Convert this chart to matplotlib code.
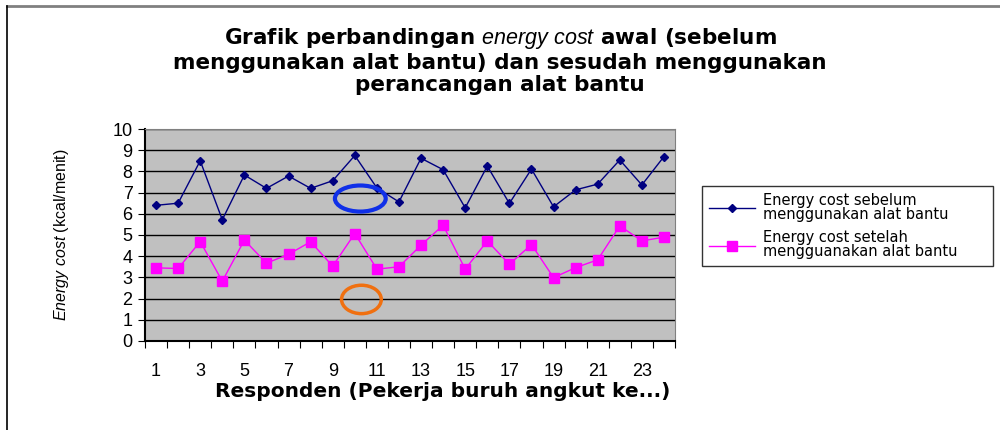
import matplotlib
matplotlib.use('Agg')
from matplotlib import pyplot as plt
from matplotlib.patches import Ellipse
from matplotlib.lines import Line2D

plt.rcParams['font.family'] = ['Liberation Sans', 'DejaVu Sans']
plt.rcParams['mathtext.fontset'] = 'custom'
plt.rcParams['mathtext.it'] = 'Liberation Sans:italic'
plt.rcParams['mathtext.rm'] = 'Liberation Sans'

responden = list(range(1, 25))
sebelum = [6.4, 6.5, 8.5, 5.72, 7.83, 7.2, 7.78, 7.2, 7.56, 8.75, 7.22, 6.56,
           8.62, 8.08, 6.28, 8.25, 6.49, 8.11, 6.33, 7.13, 7.4, 8.54, 7.36, 8.7]
sesudah = [3.45, 3.42, 4.69, 2.82, 4.76, 3.67, 4.09, 4.68, 3.53, 5.07, 3.39, 3.5,
           4.52, 5.46, 3.39, 4.72, 3.62, 4.55, 2.99, 3.46, 3.83, 5.43, 4.72, 4.9]
x_labels = [str(i) for i in range(1, 24, 2)]

fig = plt.figure(figsize=(10, 4.3), dpi=100)
ax = fig.add_axes([0.145, 0.207, 0.53, 0.493])
ax.set_facecolor('#C0C0C0')

ax.plot(responden, sebelum, color='#000080', lw=1, marker='D', ms=4.5,
        label='Energy cost sebelum\nmenggunakan alat bantu')
ax.plot(responden, sesudah, color='#FF00FF', lw=1, marker='s', ms=7,
        label='Energy cost setelah\nmengguanakan alat bantu')

# circles drawn on the original chart
ax.add_patch(Ellipse((10.25, 6.72), 2.3, 1.23, fill=False, ec='#1030E8', lw=3, zorder=5))
ax.add_patch(Ellipse((10.3, 1.96), 1.8, 1.34, fill=False, ec='#F07010', lw=2.5, zorder=5))

ax.set_xlim(0.5, 24.5)
ax.set_ylim(0, 10)
ax.set_yticks(range(0, 11))
ax.yaxis.grid(True, color='black', lw=1)
ax.set_axisbelow(True)
ax.set_xticks([i + 0.5 for i in range(0, 25)])
ax.set_xticklabels([])
ax.set_xticks(range(1, 24, 2), minor=True)
ax.set_xticklabels(x_labels, minor=True)
ax.tick_params(axis='x', which='major', length=5, direction='out', color='black')
ax.tick_params(axis='x', which='minor', length=0, pad=16, labelsize=13)
ax.tick_params(axis='y', length=5, labelsize=13, pad=4)
for s in ['top', 'right']:
    ax.spines[s].set_color('#808080')
for s in ['left', 'bottom']:
    ax.spines[s].set_color('black')
    ax.spines[s].set_linewidth(1.5)

ax.set_xlabel('Responden (Pekerja buruh angkut ke...)', fontsize=14.5,
              fontweight='bold', family='DejaVu Sans', labelpad=1, x=0.562)
ax.set_ylabel(r'$\it{Energy\ cost}$ (kcal/menit)', fontsize=11.5, labelpad=30)

fig.text(0.5, 0.94, 'Grafik perbandingan $\\it{energy\\ cost}$ awal (sebelum\n'
         'menggunakan alat bantu) dan sesudah menggunakan\n'
         'perancangan alat bantu', ha='center', va='top', fontsize=15.5,
         fontweight='bold', family='DejaVu Sans', linespacing=1.12)

leg = ax.legend(loc='upper left', bbox_to_anchor=(1.051, 0.0, 0.549, 0.731),
                mode='expand', prop={'family': 'DejaVu Sans', 'size': 10.5},
                frameon=True, fancybox=False, edgecolor='black', borderaxespad=0,
                handlelength=3.2, handletextpad=0.5, labelspacing=0.55, borderpad=0.45)
leg.get_frame().set_linewidth(1)
for t in leg.get_texts():
    t.set_linespacing(0.95)

# outer chart border (top and left only)
fig.add_artist(Line2D([0.007, 1.0], [0.986, 0.986], color='#808080', lw=2))
fig.add_artist(Line2D([0.007, 0.007], [0.0, 0.986], color='black', lw=1.2))

fig.savefig('out.png', dpi=100)
